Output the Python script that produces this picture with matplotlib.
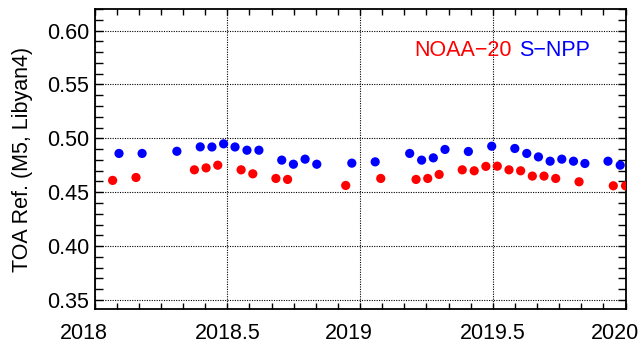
import numpy as np
import matplotlib
matplotlib.use("Agg")
import matplotlib.pyplot as plt
from matplotlib.ticker import MultipleLocator
from matplotlib.transforms import ScaledTranslation

plt.rcParams['font.family'] = ['Liberation Sans', 'DejaVu Sans']

# NOAA-20 monthly Libyan4 M5 reflectance
n20_t = [2018.068, 2018.156, 2018.376, 2018.420, 2018.464, 2018.552, 2018.596,
         2018.683, 2018.727, 2018.946, 2019.078, 2019.211, 2019.255, 2019.298,
         2019.385, 2019.430, 2019.474, 2019.517, 2019.561, 2019.605, 2019.649,
         2019.693, 2019.737, 2019.825, 2019.954, 2020.000]
n20_v = [0.461, 0.4637, 0.4708, 0.4726, 0.4751, 0.4708, 0.4671,
         0.4628, 0.4619, 0.4563, 0.4628, 0.4619, 0.4628, 0.4665,
         0.4708, 0.4699, 0.4740, 0.4742, 0.4708, 0.4699, 0.4650,
         0.4650, 0.4628, 0.4597, 0.4560, 0.4560]

# S-NPP monthly Libyan4 M5 reflectance
npp_t = [2018.092, 2018.179, 2018.310, 2018.398, 2018.442, 2018.486, 2018.529,
         2018.574, 2018.619, 2018.705, 2018.749, 2018.793, 2018.837, 2018.969,
         2019.057, 2019.187, 2019.232, 2019.276, 2019.320, 2019.408, 2019.496,
         2019.583, 2019.628, 2019.672, 2019.716, 2019.760, 2019.804, 2019.847,
         2019.934, 2019.980]
npp_v = [0.486, 0.486, 0.488, 0.4921, 0.492, 0.4949, 0.492,
         0.489, 0.489, 0.4798, 0.476, 0.4807, 0.476, 0.477,
         0.4782, 0.486, 0.4798, 0.4819, 0.4897, 0.4878, 0.4927,
         0.4906, 0.486, 0.4828, 0.4788, 0.4807, 0.4788, 0.4767,
         0.4788, 0.4751]

x_ticks = [2018, 2018.5, 2019, 2019.5, 2020]
x_labels = ['2018', '2018.5', '2019', '2019.5', '2020']
y_ticks = [0.35, 0.40, 0.45, 0.50, 0.55, 0.60]

fig = plt.figure(figsize=(6.43, 3.43), dpi=100)
ax = fig.add_axes([0.1471, 0.0991, 0.8257, 0.8747])

ax.scatter(n20_t, n20_v, s=44, color='#ff0000', edgecolors='none', zorder=3)
ax.scatter(npp_t, npp_v, s=44, color='#0000ff', edgecolors='none', zorder=3)

ax.set_xlim(2018, 2020)
ax.set_ylim(0.3417, 0.62)
ax.set_xticks(x_ticks)
ax.set_xticklabels(x_labels)
ax.set_yticks(y_ticks)
ax.set_yticklabels(['%.2f' % v for v in y_ticks])
ax.xaxis.set_minor_locator(MultipleLocator(1 / 12))
ax.yaxis.set_minor_locator(MultipleLocator(0.01))

ax.grid(True, which='major', color='black', linestyle=(0, (1.0, 1.2)), linewidth=0.8)
ax.tick_params(which='both', direction='in', top=True, right=True,
               labelsize=15.5, width=1.0, colors='black')
ax.tick_params(axis='y', which='both', length=6, pad=4)
ax.tick_params(axis='x', which='both', length=4, pad=10)
for sp in ax.spines.values():
    sp.set_linewidth(1.3)

# whole-year labels sit a little left of their ticks
shift = ScaledTranslation(-11 / 100, 0, fig.dpi_scale_trans)
for lab in ax.get_xticklabels():
    if '.' not in lab.get_text():
        lab.set_transform(lab.get_transform() + shift)

ax.set_ylabel('TOA Ref. (M5, Libyan4)', fontsize=15.5, labelpad=10)

ax.text(0.602, 0.862, 'NOAA\u221220', color='#ff0000', fontsize=15.5,
        transform=ax.transAxes, ha='left', va='center')
ax.text(0.800, 0.862, 'S\u2212NPP', color='#0000ff', fontsize=15.5,
        transform=ax.transAxes, ha='left', va='center')

fig.savefig('out.png', dpi=100)
